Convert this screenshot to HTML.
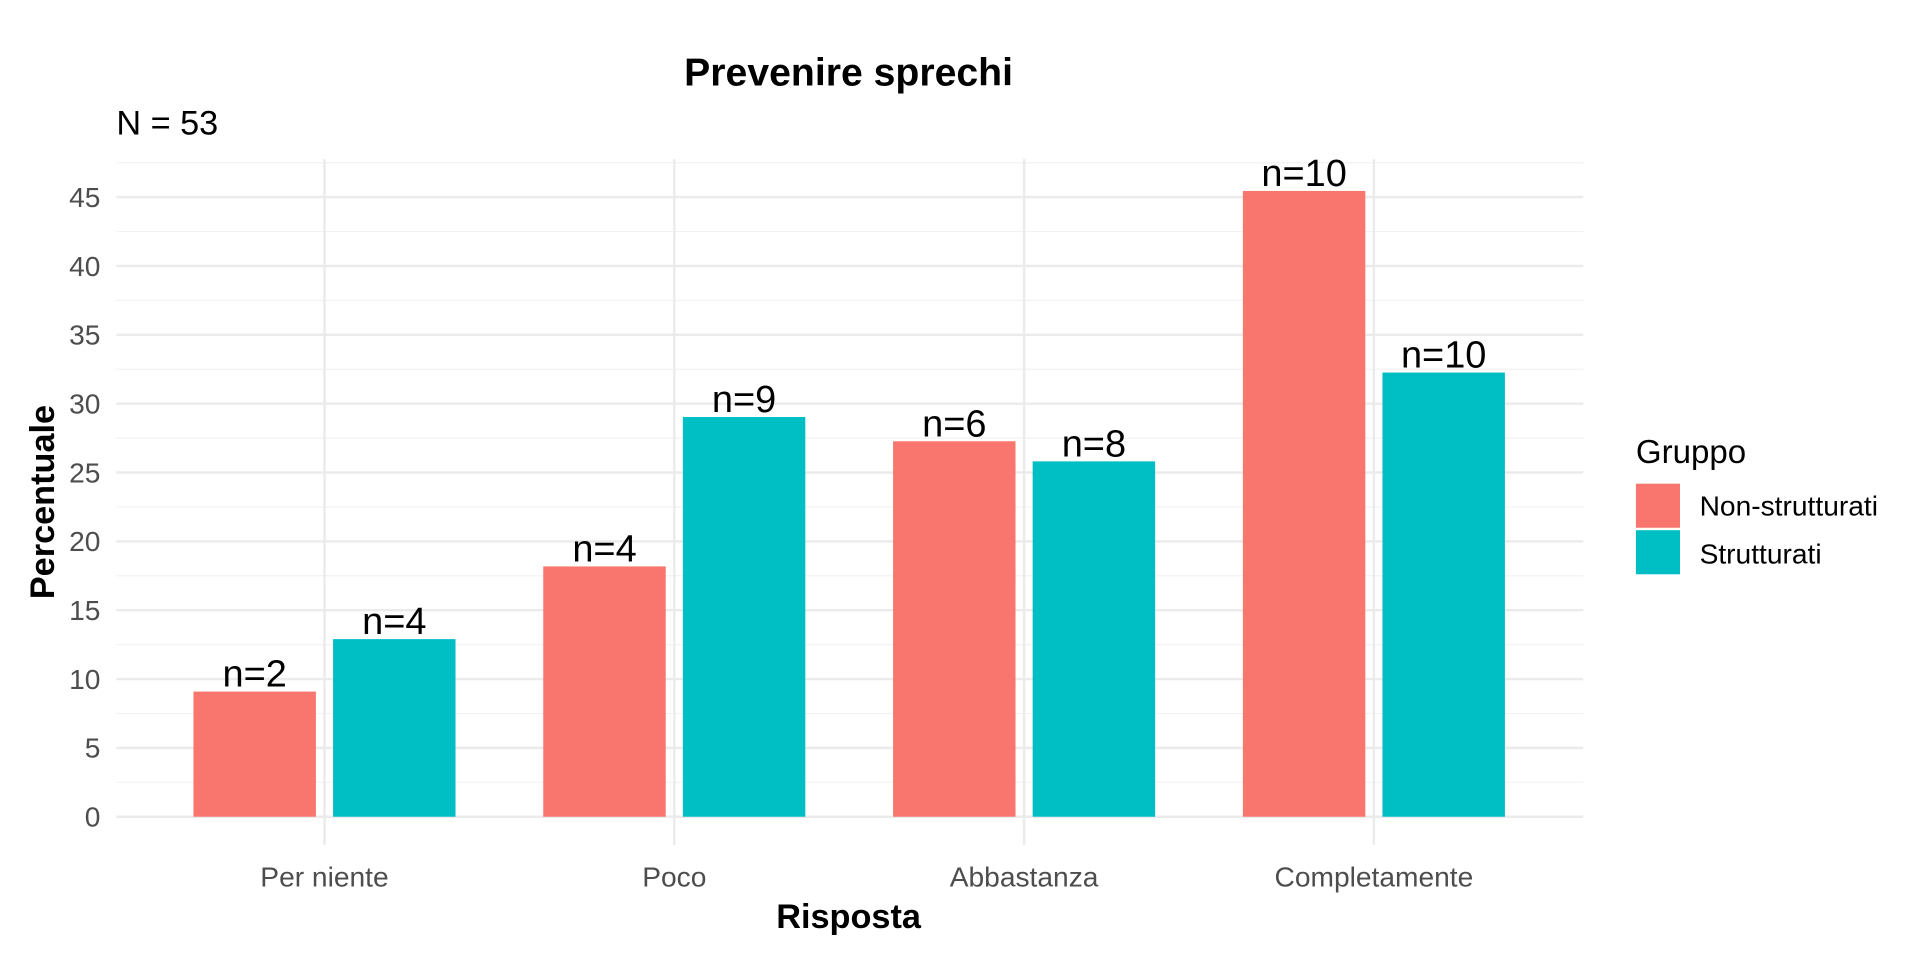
<!DOCTYPE html>
<html><head><meta charset="utf-8"><style>
html,body{margin:0;padding:0;background:#fff;}
svg{display:block;font-family:"Liberation Sans",Arial,sans-serif;}
</style></head><body>
<svg id="chart" width="1920" height="960" viewBox="0 0 1568 784" xmlns="http://www.w3.org/2000/svg">
<rect width="1568" height="784" fill="#fff"/>
<g id="grid"></g>
<g id="bars"></g>
<g id="labels"></g>
<text x="693" y="70" text-anchor="middle" font-size="32" font-weight="bold">Prevenire sprechi</text>
<text x="95" y="110" font-size="28">N = 53</text>
<text x="693" y="758" text-anchor="middle" font-size="28" font-weight="bold">Risposta</text>
<text transform="translate(44,410) rotate(-90)" text-anchor="middle" font-size="28" font-weight="bold">Percentuale</text>
<g>
<text x="1336" y="378" font-size="27">Gruppo</text>
<rect x="1336" y="395" width="36" height="36" fill="#F8766D"/>
<rect x="1336" y="433" width="36" height="36" fill="#00BFC4"/>
<text x="1388" y="421" font-size="23">Non-strutturati</text>
<text x="1388" y="460" font-size="23">Strutturati</text>
</g>
</svg>
<script>
const categories = ["Per niente","Poco","Abbastanza","Completamente"];
const nonValues = [9.09, 18.18, 27.27, 45.45];
const strValues = [12.90, 29.03, 25.81, 32.26];
const nonCounts = [2, 4, 6, 10];
const strCounts = [4, 9, 8, 10];
const yTicks = [0,5,10,15,20,25,30,35,40,45];

const SVGNS = "http://www.w3.org/2000/svg";
const baseY = 667, unitY = (667-161)/45;
const yS = v => baseY - v*unitY;
const xS = i => 265 + i*285.67;
const pLeft = 95, pRight = 1293, pTop = 130, pBottom = 690;
function mk(tag, attrs, parent){const e=document.createElementNS(SVGNS,tag);for(const k in attrs)e.setAttribute(k,attrs[k]);parent.appendChild(e);return e;}
const gridG=document.getElementById('grid'), barsG=document.getElementById('bars'), labelsG=document.getElementById('labels');
for(let v=2.5; v<=47.5; v+=5){
  const l=mk('line',{x1:pLeft,x2:pRight,y1:yS(v),y2:yS(v),stroke:'#f2f2f2','stroke-width':1},gridG);
  
  
}
yTicks.forEach(v=>{
  const l=mk('line',{x1:pLeft,x2:pRight,y1:yS(v),y2:yS(v),stroke:'#ebebeb','stroke-width':2},gridG);
  
  
  const t=mk('text',{x:82,y:yS(v)+8,'text-anchor':'end','font-size':23,fill:'#4d4d4d'},labelsG);
  t.textContent=v;
  
  
});
categories.forEach((c,i)=>{
  const cx=xS(i);
  const l=mk('line',{x1:cx,x2:cx,y1:pTop,y2:pBottom,stroke:'#ebebeb','stroke-width':2},gridG);
  
  
  const t=mk('text',{x:cx,y:724,'text-anchor':'middle','font-size':23,fill:'#4d4d4d'},labelsG);
  t.textContent=c;
  
  
  [[nonValues[i],nonCounts[i],'#F8766D',-57,'non'],[strValues[i],strCounts[i],'#00BFC4',57,'str']].forEach(([v,n,col,off,g])=>{
    const bx=cx+off;
    const r=mk('rect',{x:bx-50,y:yS(v),width:100,height:baseY-yS(v),fill:col},barsG);
    
    
    const t2=mk('text',{x:bx,y:yS(v)-4,'text-anchor':'middle','font-size':31,fill:'#000'},labelsG);
    t2.textContent='n='+n;
    
    
  });
});
</script>
</body></html>
